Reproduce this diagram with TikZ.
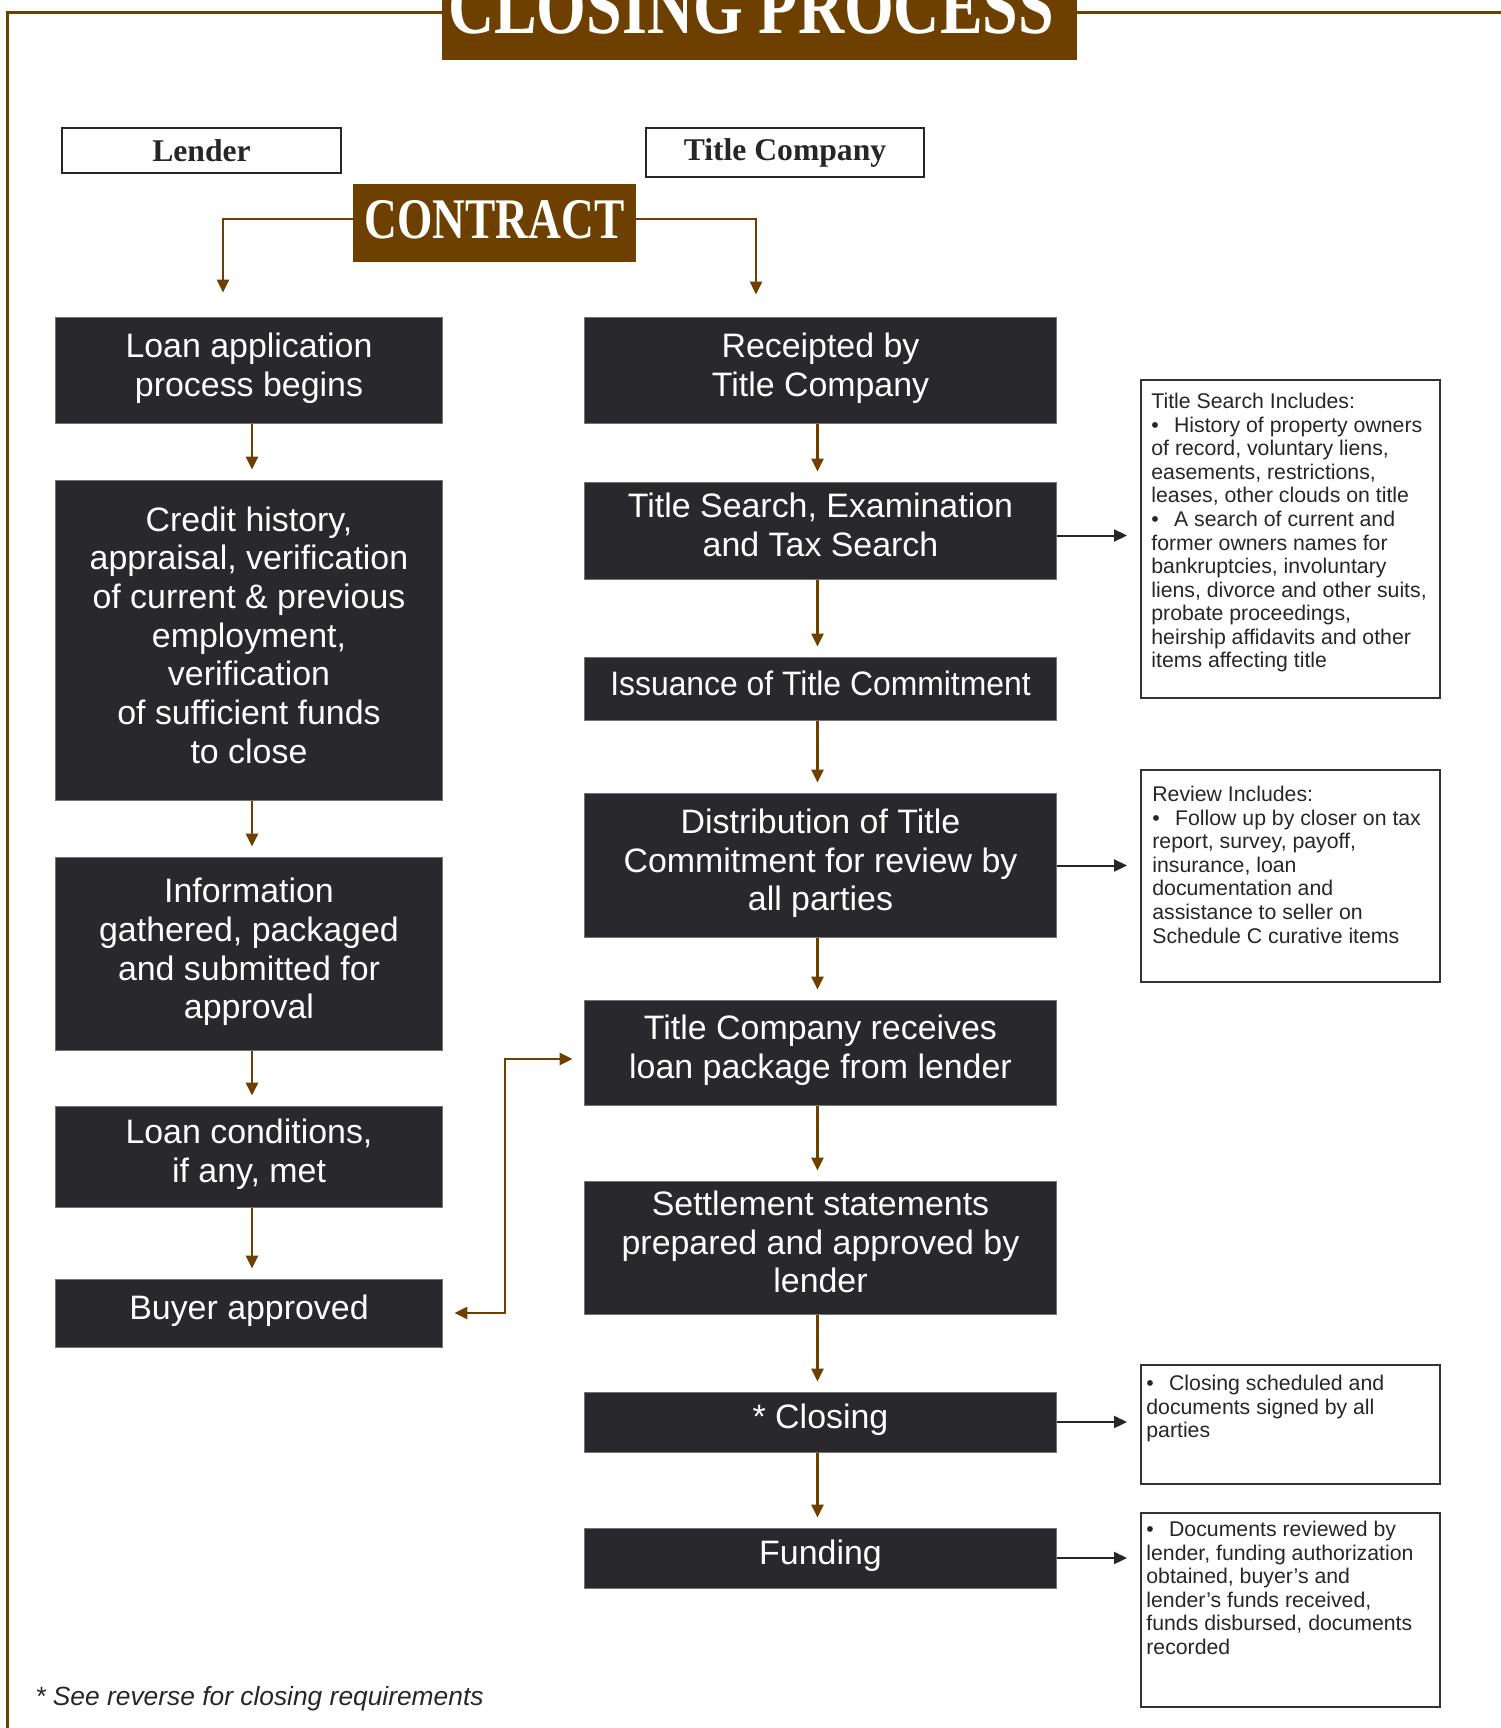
\documentclass[tikz,border=0pt]{standalone}
\usepackage{fontspec}
\usepackage{graphicx}
\setmainfont{Liberation Sans}
\newfontfamily\headfont{Liberation Serif}
\usetikzlibrary{arrows.meta}

\definecolor{closebrown}{RGB}{110,64,0}
\definecolor{boxgray}{RGB}{41,40,44}

\newcommand{\boxfont}{\fontsize{19.3}{22}\selectfont}
\newcommand{\notefont}{\fontsize{12.1}{13.4}\selectfont}

\begin{document}
\begin{tikzpicture}[x=0.02cm, y=-0.02cm,
  >={Triangle[length=0.26cm,width=0.24cm]},
  flowbox/.style={fill=boxgray, draw=black!55, line width=0.02cm, text=white, font=\boxfont, align=center, inner sep=0, text depth=0.22cm},
  leftbox/.style={flowbox, minimum width=7.76cm},
  rightbox/.style={flowbox, minimum width=9.46cm},
  headbox/.style={draw=black!85, line width=0.05cm, text=black!85, font=\headfont\bfseries\fontsize{18}{20}\selectfont, inner sep=0},
  notebox/.style={draw=black!80, line width=0.04cm, minimum width=5.98cm, inner sep=0},
  notetext/.style={anchor=north west, align=left, font=\notefont, text=black!85, inner xsep=0.22cm, inner ysep=0.28cm},
  link/.style={draw=closebrown, line width=0.05cm, ->},
  sidelink/.style={draw=black!85, line width=0.04cm, ->, shorten >=0.26cm},
]
\clip (0,0) rectangle (1501,1728);

% frame and title
\fill[closebrown] (442,-50) rectangle (1077,60);
\node[anchor=base, text=white, inner sep=0, font=\headfont\bfseries\fontsize{45.5}{50}\selectfont] (title) at (751,33) {\scalebox{0.8}[1]{CLOSING PROCESS}};
\draw[closebrown, line width=0.05cm] (442,12.7) -- (7.5,12.7) -- (7.5,1740);
\draw[closebrown, line width=0.05cm] (1077,12.7) -- (1510,12.7);

% column heads
\node[headbox, minimum width=5.58cm, minimum height=0.9cm] (lender) at (201.5,150.5) {Lender};
\node[headbox, minimum width=5.56cm, minimum height=0.98cm] (titleco) at (785,152.5) {Title Company};
\node[fill=closebrown, text=white, minimum width=5.66cm, minimum height=1.56cm, inner sep=0, text depth=0.16cm,
  font=\headfont\bfseries\fontsize{32.7}{36}\selectfont] (contract) at (494.5,223) {\scalebox{0.79}[1]{CONTRACT}};

% lender side
\node[leftbox, minimum height=2.14cm] (loan) at (249,370.5) {Loan application\\process begins};
\node[leftbox, minimum height=6.42cm] (credit) at (249,640.5) {Credit history,\\appraisal, verification\\of current \& previous\\employment,\\verification\\of sufficient funds\\to close};
\node[leftbox, minimum height=3.88cm] (info) at (249,954) {Information\\gathered, packaged\\and submitted for\\approval};
\node[leftbox, minimum height=2.02cm] (cond) at (249,1156.5) {Loan conditions,\\if any, met};
\node[leftbox, minimum height=1.36cm] (buyer) at (249,1313) {Buyer approved};

% title company side
\node[rightbox, minimum height=2.14cm] (receipt) at (820.5,370.5) {Receipted by\\Title Company};
\node[rightbox, minimum height=1.94cm] (search) at (820.5,530.5) {Title Search, Examination\\and Tax Search};
\node[rightbox, minimum height=1.26cm] (issue) at (820.5,688.5) {\scalebox{0.94}[1]{Issuance of Title Commitment}};
\node[rightbox, minimum height=2.9cm] (distrib) at (820.5,865.5) {Distribution of Title\\Commitment for review by\\all parties};
\node[rightbox, minimum height=2.1cm] (receive) at (820.5,1052.5) {Title Company receives\\loan package from lender};
\node[rightbox, minimum height=2.66cm] (settle) at (820.5,1247.5) {Settlement statements\\prepared and approved by\\lender};
\node[rightbox, minimum height=1.2cm] (closing) at (820.5,1422) {* Closing};
\node[rightbox, minimum height=1.2cm] (funding) at (820.5,1558) {Funding};

% notes
\node[notebox, minimum height=6.36cm] (tsnote) at (1290.5,539) {};
\node[notetext] (tstext) at (tsnote.north west) {Title Search Includes:\\
  •\hspace{0.72em}History of property owners\\
  of record, voluntary liens,\\
  easements, restrictions,\\
  leases, other clouds on title\\
  •\hspace{0.72em}A search of current and\\
  former owners names for\\
  bankruptcies, involuntary\\
  liens, divorce and other suits,\\
  probate proceedings,\\
  heirship affidavits and other\\
  items affecting title};
\node[notebox, minimum height=4.24cm] (revnote) at (1290.5,876) {};
\node[notetext, inner xsep=0.24cm, inner ysep=0.34cm] (revtext) at (revnote.north west) {Review Includes:\\
  •\hspace{0.72em}Follow up by closer on tax\\
  report, survey, payoff,\\
  insurance, loan\\
  documentation and\\
  assistance to seller on\\
  Schedule C curative items};
\node[notebox, minimum height=2.38cm] (closenote) at (1290.5,1424.5) {};
\node[notetext, inner xsep=0.12cm, inner ysep=0.22cm] (closetext) at (closenote.north west) {•\hspace{0.72em}Closing scheduled and\\
  documents signed by all\\
  parties};
\node[notebox, minimum height=3.88cm] (fundnote) at (1290.5,1610) {};
\node[notetext, inner xsep=0.12cm, inner ysep=0.18cm] (fundtext) at (fundnote.north west) {•\hspace{0.72em}Documents reviewed by\\
  lender, funding authorization\\
  obtained, buyer’s and\\
  lender’s funds received,\\
  funds disbursed, documents\\
  recorded};

\node[anchor=base west, inner sep=0, text=black!85, font=\itshape\fontsize{15}{18}\selectfont] (footnote) at (35,1705) {* See reverse for closing requirements};

% connectors
\draw[link] ([yshift=0.08cm]contract.west) -| ([xshift=-0.52cm,yshift=0.48cm]loan.north);
\draw[link] ([yshift=0.08cm]contract.east) -| ([xshift=-1.29cm,yshift=0.44cm]receipt.north);
\foreach \a/\b/\s in {loan/credit/0.06, credit/info/0.06, info/cond/0.06, cond/buyer/0.06,
  receipt/search/-0.06, search/issue/-0.06, issue/distrib/-0.06, distrib/receive/-0.06,
  receive/settle/-0.06, settle/closing/-0.06, closing/funding/-0.06}
  \draw[link, shorten >=0.2cm] ([xshift=\s cm]\a.south) -- ([xshift=\s cm]\b.north);
\coordinate (loop) at (505,1059);
\draw[link, <->, shorten <=0.22cm, shorten >=0.22cm] (buyer.east) -| (loop) -- (loop -| receive.west);
\draw[sidelink] ([yshift=-0.1cm]search.east) -- ([yshift=-0.1cm]search.east -| tsnote.west);
\draw[sidelink] (distrib.east) -- (distrib.east -| revnote.west);
\draw[sidelink] (closing.east) -- (closing.east -| closenote.west);
\draw[sidelink] (funding.east) -- (funding.east -| fundnote.west);
\end{tikzpicture}
\end{document}
